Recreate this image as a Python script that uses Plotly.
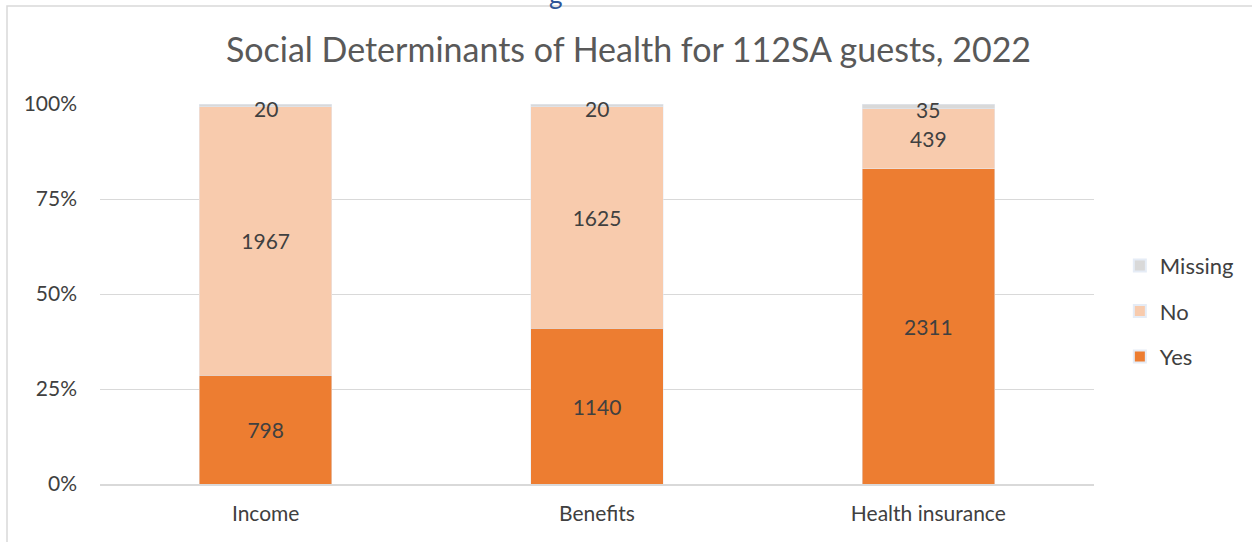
import plotly.graph_objects as go

categories = ["Income", "Benefits", "Health insurance"]
yes_vals = [798, 1140, 2311]
no_vals = [1967, 1625, 439]
missing_vals = [20, 20, 35]
y_ticks = [0, 25, 50, 75, 100]
y_tick_text = ["0%", "25%", "50%", "75%", "100%"]

TXT = "#404040"
FONT = "Lato"

fig = go.Figure()
for name, vals, col, show, rank in [("Yes", yes_vals, "#ED7D31", True, 3),
                                    ("No", no_vals, "#F8CBAD", True, 2),
                                    ("Missing", missing_vals, "#D9D9D9", False, 1)]:
    fig.add_trace(go.Bar(
        x=categories, y=vals, name=name, marker_color=col, legendgroup=name,
        legendrank=rank,
        text=[str(v) for v in vals] if show else None,
        textposition="inside" if show else "none",
        insidetextanchor="middle", constraintext="none", textangle=0,
        textfont=dict(family=FONT, size=21, color=TXT),
    ))

annotations = []
for c, y_, n_, m_ in zip(categories, yes_vals, no_vals, missing_vals):
    tot = y_ + n_ + m_
    annotations.append(dict(x=c, y=100 * (y_ + n_ + m_ / 2) / tot, xref="x", yref="y",
                            text=str(m_), showarrow=False, yanchor="middle", yshift=-3,
                            font=dict(family=FONT, size=21, color=TXT)))
annotations.append(dict(text="g", xref="paper", yref="paper", x=(556 - 100) / 994,
                        y=(484 - 12) / 380, xanchor="center", yanchor="bottom",
                        showarrow=False, font=dict(family=FONT, size=26, color="#2F5597")))

fig.update_layout(
    barmode="stack", barnorm="percent", bargap=0.6,
    width=1252, height=542,
    margin=dict(l=100, r=158, t=104, b=58, autoexpand=False),
    paper_bgcolor="white", plot_bgcolor="white",
    title=dict(text="Social Determinants of Health for 112SA guests, 2022",
               x=0.502, xanchor="center", y=1 - 50 / 542, yanchor="middle",
               font=dict(family=FONT, size=34, color="#595959")),
    legend=dict(traceorder="grouped", x=1.026, xanchor="left", y=0.455, yanchor="middle",
                font=dict(family=FONT, size=22, color=TXT),
                itemwidth=30, tracegroupgap=14, itemsizing="constant"),
    yaxis=dict(range=[0, 100], tickvals=y_ticks, ticktext=y_tick_text,
               showgrid=True, gridcolor="#D9D9D9", gridwidth=1.3,
               zeroline=False, showline=False, ticks="",
               ticklabelstandoff=22,
               tickfont=dict(family=FONT, size=21, color=TXT)),
    xaxis=dict(showline=True, linecolor="#D9D9D9", linewidth=1.5, ticks="",
               ticklabelstandoff=10,
               tickfont=dict(family=FONT, size=21, color=TXT)),
    showlegend=True,
    shapes=[dict(type="rect", xref="paper", yref="paper",
                 x0=(7 - 100) / 994, x1=1.3, y0=-0.3, y1=(484 - 6) / 380,
                 line=dict(color="#D9D9D9", width=1.5), fillcolor="rgba(0,0,0,0)",
                 layer="below")],
    annotations=annotations,
)

fig.write_html("out.html", config={"displayModeBar": False},
               post_script="document.body.style.margin='0px';")
